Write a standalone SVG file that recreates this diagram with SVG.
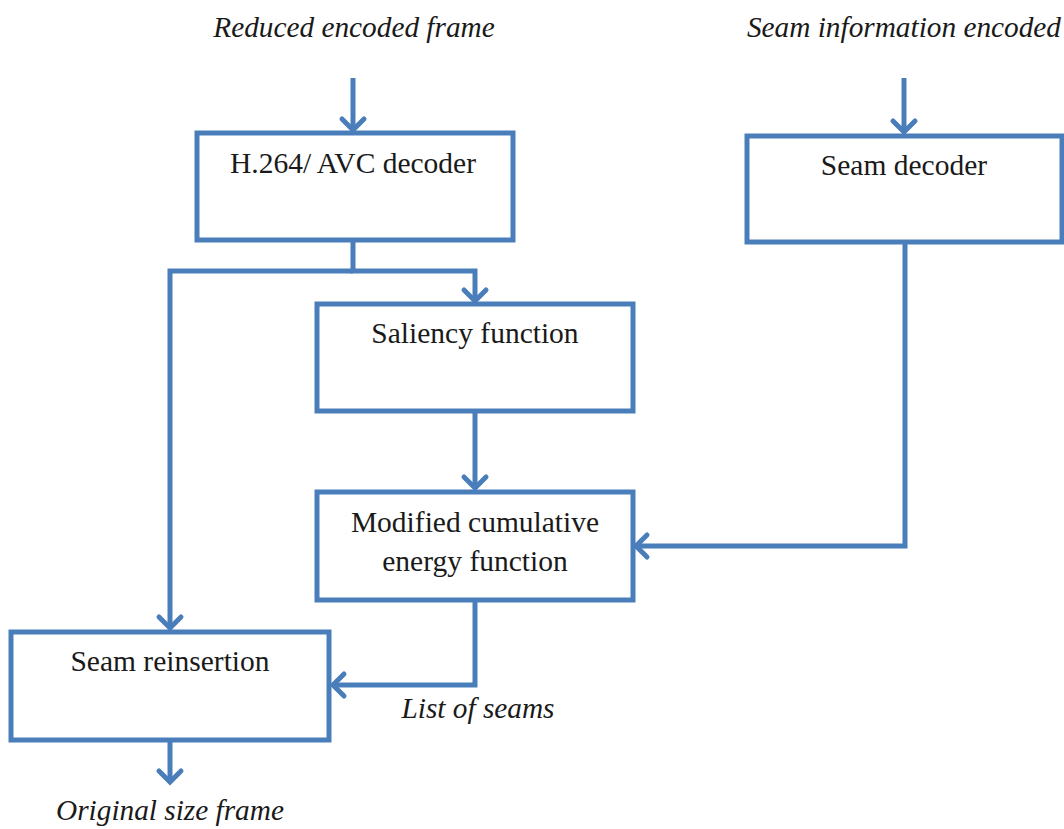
<svg xmlns="http://www.w3.org/2000/svg" width="1064" height="829" viewBox="0 0 1064 829">
<style>
.box{fill:#fff;stroke:#4a7ebb;stroke-width:5}
.ln{fill:none;stroke:#4a7ebb;stroke-width:5;stroke-linejoin:miter}
.t{font-family:"Liberation Serif","Times New Roman",serif;font-size:29.5px;fill:#1a1a1a;text-anchor:middle}
.i{font-family:"Liberation Serif","Times New Roman",serif;font-size:29.3px;font-style:italic;fill:#1a1a1a;text-anchor:middle}
</style>
<defs>
<marker id="chev" viewBox="-16 -14 20 28" refX="0" refY="0" markerWidth="20" markerHeight="28" orient="auto" markerUnits="userSpaceOnUse" overflow="visible">
<path d="M-11,-11 L0,0 L-11,11" fill="none" stroke="#4a7ebb" stroke-width="5" stroke-linecap="round" stroke-linejoin="miter"/>
</marker>
</defs>
<rect width="1064" height="829" fill="#fff"/>
<g id="labels">
<text class="i" x="354" y="37">Reduced encoded frame</text>
<text class="i" x="904" y="37">Seam information encoded</text>
<text class="i" x="478" y="718">List of seams</text>
<text class="i" x="170" y="820">Original size frame</text>
</g>
<g id="connectors">
<path class="ln" d="M353,78 L353,130" marker-end="url(#chev)"/>
<path class="ln" d="M904,78 L904,132" marker-end="url(#chev)"/>
<path class="ln" d="M353,241 L353,271 L475,271 L475,301" marker-end="url(#chev)"/>
<path class="ln" d="M353,271 L170,271 L170,628" marker-end="url(#chev)"/>
<path class="ln" d="M475,411 L475,488" marker-end="url(#chev)"/>
<path class="ln" d="M905,243 L905,546 L636,546" marker-end="url(#chev)"/>
<path class="ln" d="M475,600 L475,685 L333,685" marker-end="url(#chev)"/>
<path class="ln" d="M170,740 L170,782" marker-end="url(#chev)"/>
</g>
<g id="n-h264">
<rect class="box" x="197" y="133" width="316" height="107"/>
<text class="t" x="353" y="173">H.264/ AVC decoder</text>
</g>
<g id="n-seamdec">
<rect class="box" x="747" y="136" width="315" height="106"/>
<text class="t" x="904" y="175">Seam decoder</text>
</g>
<g id="n-saliency">
<rect class="box" x="317" y="304" width="316" height="107"/>
<text class="t" x="475" y="343">Saliency function</text>
</g>
<g id="n-modified">
<rect class="box" x="317" y="492" width="316" height="108"/>
<text class="t" x="475" y="532">Modified cumulative</text>
<text class="t" x="475" y="571">energy function</text>
</g>
<g id="n-reinsertion">
<rect class="box" x="11" y="632" width="318" height="108"/>
<text class="t" x="170" y="671">Seam reinsertion</text>
</g>
</svg>
